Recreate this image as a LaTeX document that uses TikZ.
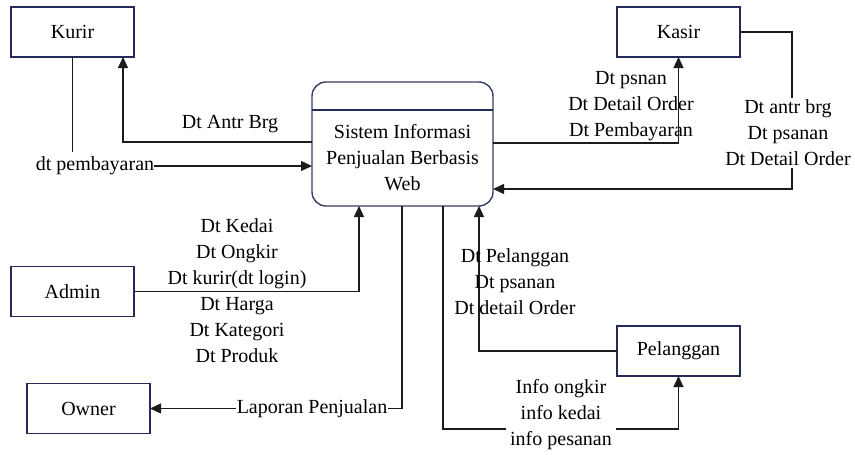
\documentclass[tikz,border=0pt]{standalone}
\usepackage{fontspec}
\setmainfont{Liberation Serif}
\usetikzlibrary{arrows.meta,calc}
\definecolor{navy}{HTML}{232C58}
\definecolor{ink}{HTML}{1C1C1C}
\begin{document}
\begin{tikzpicture}[x=1pt,y=-1pt,
  every node/.style={font=\fontsize{20}{26}\selectfont, text=black},
  ent/.style={draw=navy, line width=1.4pt, rectangle, minimum width=123pt, minimum height=50pt, inner sep=0pt, outer sep=0pt},
  flow/.style={draw=ink, line width=1.3pt},
  arr/.style={flow, -{Triangle[length=11pt,width=10pt]}},
  lab/.style={align=center, inner sep=2pt},
  cutlab/.style={lab, fill=white, inner sep=1pt}]
\useasboundingbox (0,0) rectangle (855,455);

% entities
\node[ent] (kurir) at (72.5,32) {Kurir};
\node[ent] (kasir) at (678.5,32) {Kasir};
\node[ent] (admin) at (72.5,291.5) {Admin};
\node[ent] (owner) at (88.5,408.5) {Owner};
\node[ent] (pel) at (678.5,351) {Pelanggan};

% process
\node[draw=navy!80!gray, line width=1.4pt, rounded corners=14pt, minimum width=181pt, minimum height=124pt, inner sep=0pt, outer sep=0pt] (proc) at (402.5,144) {};
\draw[draw=navy, line width=1.6pt] ([yshift=-28pt]proc.north west) -- ([yshift=-28pt]proc.north east);
\node[lab] (ptext) at (402.5,158) {Sistem Informasi\\Penjualan Berbasis\\Web};

% Kurir flows
\draw[arr] ([yshift=2pt]proc.west) -| ([xshift=-11pt]kurir.south east);
\node[lab] (antr) at (230,124) {Dt Antr Brg};
\node[inner sep=0pt, font=\fontsize{20}{26}\selectfont] (pemb) at (95,166) {dt pembayaran};
\draw[flow] (kurir.south) -- ([yshift=5pt]kurir.south |- pemb.north);
\draw[arr] (pemb.east) -- (proc.west |- pemb.east);

% Kasir flows
\node[lab] (kaslab1) at (631,106) {Dt psnan\\Dt Detail Order\\Dt Pembayaran};
\draw[arr] ([yshift=1pt]proc.east) -| (kasir.south);
\coordinate (kr) at (792,0);
\node[lab] (kaslab2) at (788,133) {Dt antr brg\\Dt psanan\\Dt Detail Order};
\draw[flow] (kasir.east) -| (kr |- kaslab2.north);
\draw[arr] (kr |- kaslab2.south) |- ([yshift=-45pt]proc.east);

% Admin flow
\draw[arr] (admin.east) -| ([xshift=-43.5pt]proc.south);
\node[lab] (admlab) at (237,291) {Dt Kedai\\Dt Ongkir\\Dt kurir(dt login)\\Dt Harga\\Dt Kategori\\Dt Produk};

% Owner flow
\draw[arr] ([xshift=-0.5pt]proc.south) |- (owner.east);
\node[cutlab] (lap) at (312,409) {Laporan Penjualan};

% Pelanggan flows
\draw[arr] (pel.west) -| ([xshift=76.5pt]proc.south);
\node[lab] (pellab) at (515,282) {Dt Pelanggan\\Dt psanan\\Dt detail Order};
\draw[arr] ([xshift=40.5pt]proc.south) |- ([yshift=-53pt]pel.south) -- (pel.south);
\node[cutlab, inner xsep=4pt] (info) at (561,415) {Info ongkir\\info kedai\\info pesanan};
\end{tikzpicture}
\end{document}
